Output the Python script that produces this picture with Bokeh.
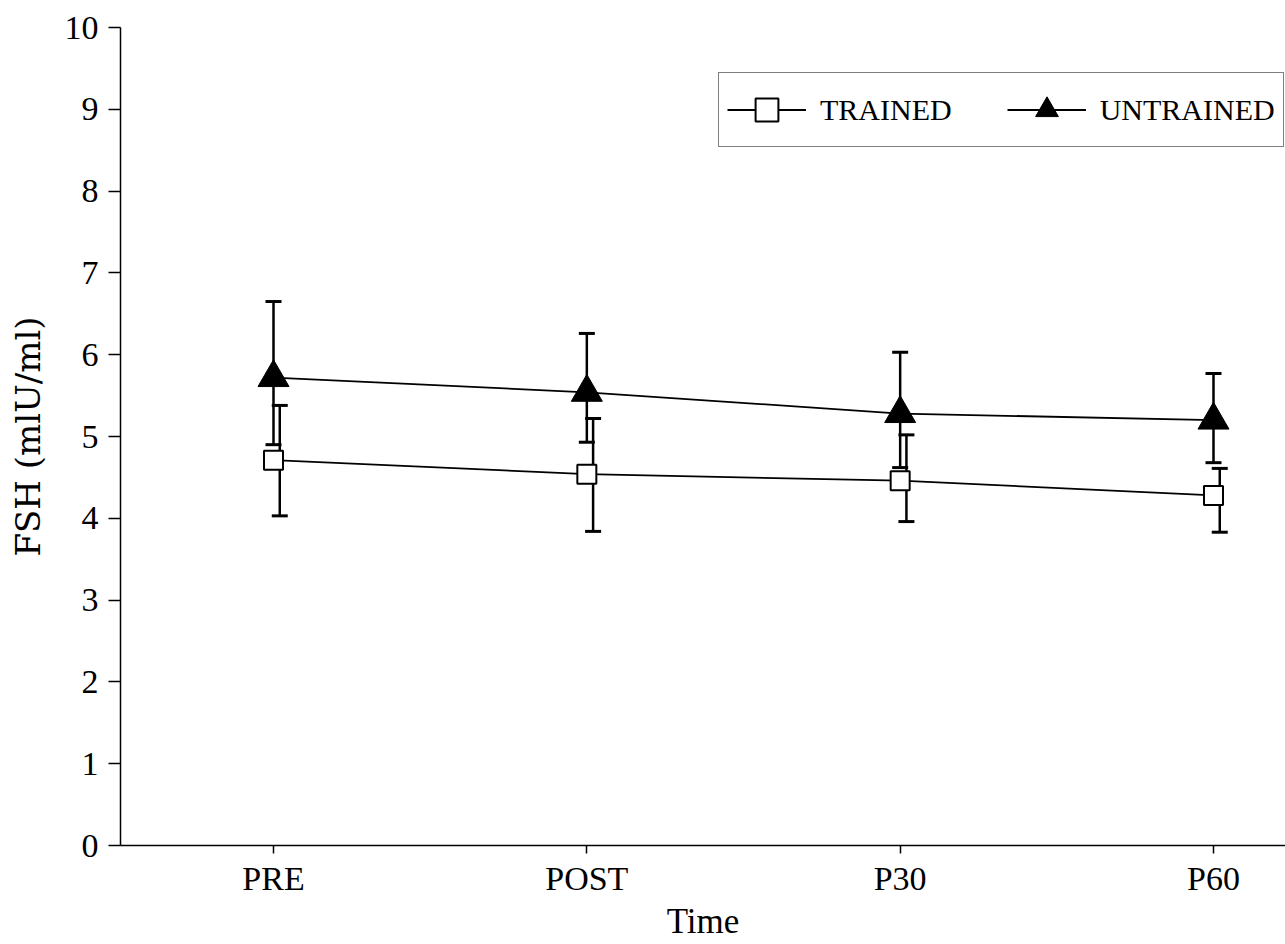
from bokeh.plotting import figure
from bokeh.models import ColumnDataSource, Whisker, FixedTicker, Legend, LegendItem, Range1d
from bokeh.transform import dodge
from bokeh.embed import file_html
from bokeh.resources import INLINE

times = ["PRE", "POST", "P30", "P60"]
time_pos = [1, 2, 3, 4]
trained = [4.71, 4.54, 4.46, 4.28]
trained_upper = [5.38, 5.22, 5.02, 4.61]
trained_lower = [4.03, 3.84, 3.96, 3.83]
untrained = [5.72, 5.54, 5.28, 5.20]
untrained_upper = [6.65, 6.26, 6.03, 5.77]
untrained_lower = [4.90, 4.93, 4.62, 4.68]
y_ticks = list(range(0, 11))

FONT = "Liberation Serif"

src_t = ColumnDataSource(dict(x=time_pos, y=trained, up=trained_upper, lo=trained_lower))
src_u = ColumnDataSource(dict(x=time_pos, y=untrained, up=untrained_upper, lo=untrained_lower))

p = figure(width=1285, height=944, output_backend="svg", toolbar_location=None,
           x_range=Range1d(0.5117, 4.2298), y_range=Range1d(0, 10),
           min_border_left=120, min_border_top=27, min_border_bottom=99, min_border_right=0)
p.outline_line_color = None
p.grid.visible = False
p.background_fill_color = "white"

# error bars
def style_whisker(w):
    for h in (w.upper_head, w.lower_head):
        h.size = 16
        h.line_width = 3
        h.line_color = "black"

wt = Whisker(source=src_t, base=dodge("x", 0.02), upper="up", lower="lo",
             line_color="black", line_width=2.5)
wu = Whisker(source=src_u, base="x", upper="up", lower="lo",
             line_color="black", line_width=2.5)
style_whisker(wt)
style_whisker(wu)
p.add_layout(wt)
p.add_layout(wu)

lt = p.line("x", "y", source=src_t, line_color="black", line_width=1.8)
mt = p.scatter("x", "y", source=src_t, marker="square", size=19,
               fill_color="white", line_color="black", line_width=2)
lu = p.line("x", "y", source=src_u, line_color="black", line_width=1.8)
mu = p.scatter("x", "y", source=src_u, marker="triangle", size=31,
               fill_color="black", line_color="black")

legend = Legend(items=[LegendItem(label="TRAINED", renderers=[lt, mt]),
                       LegendItem(label="UNTRAINED", renderers=[lu, mu])],
                orientation="horizontal", location=(598, 698))
legend.label_text_font = FONT
legend.label_text_font_size = "30px"
legend.label_text_color = "black"
legend.border_line_color = "black"
legend.border_line_width = 1.5
legend.background_fill_alpha = 1
legend.glyph_width = 79
legend.glyph_height = 57
legend.spacing = 55
legend.padding = 8
legend.margin = 0
legend.label_standoff = 14
p.add_layout(legend)

# axes
p.xaxis.ticker = FixedTicker(ticks=time_pos)
p.xaxis.major_label_overrides = {k: v for k, v in zip(time_pos, times)}
p.yaxis.ticker = FixedTicker(ticks=y_ticks)
for ax in (p.xaxis[0], p.yaxis[0]):
    ax.axis_line_color = "black"
    ax.axis_line_width = 1.5
    ax.major_tick_line_color = "black"
    ax.major_tick_line_width = 1.5
    ax.minor_tick_line_color = None
    ax.major_tick_in = 0
    ax.major_label_text_font = FONT
    ax.major_label_text_font_size = "34px"
    ax.major_label_text_color = "black"
    ax.axis_label_text_font = FONT
    ax.axis_label_text_font_size = "35px"
    ax.axis_label_text_font_style = "normal"
    ax.axis_label_text_color = "black"
p.yaxis.major_tick_out = 12
p.xaxis.major_tick_out = 8
p.yaxis.major_label_standoff = 10
p.xaxis.major_label_standoff = 6
p.xaxis.axis_label = "Time"
p.xaxis.axis_label_standoff = 2
p.yaxis.axis_label = "FSH (mlU/ml)"
p.yaxis.axis_label_text_font = "DejaVu Serif"
p.yaxis.axis_label_text_font_size = "34px"
p.yaxis.axis_label_standoff = 14

open("out.html", "w").write(file_html(p, INLINE))
